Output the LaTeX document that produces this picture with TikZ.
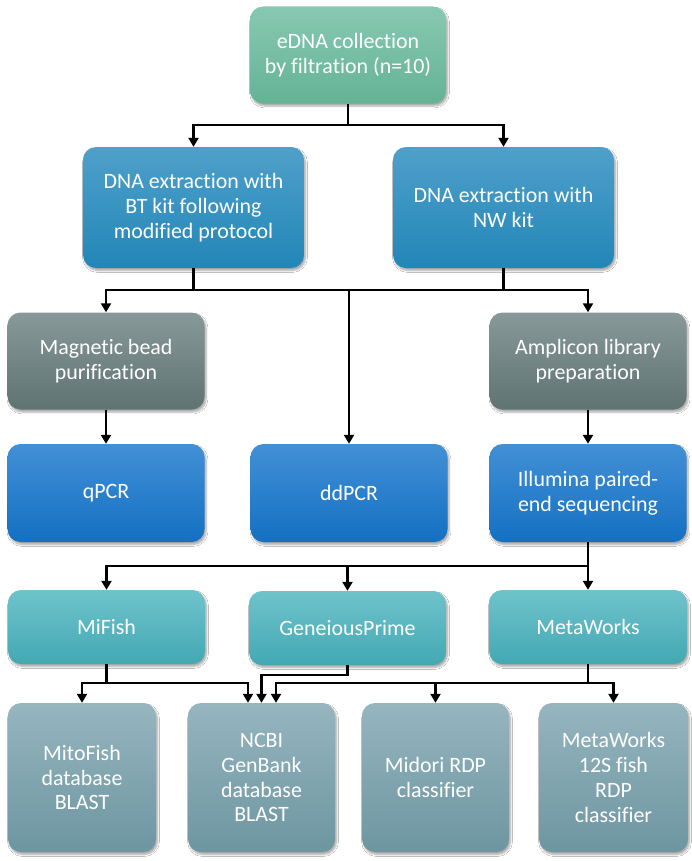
\documentclass[tikz,border=0pt]{standalone}
\usepackage{fontspec}
\setmainfont{Carlito}[RawFeature=-liga]
\usetikzlibrary{arrows.meta,shadows.blur}
\definecolor{gT}{HTML}{88C8B2}\definecolor{gB}{HTML}{64B396}
\definecolor{bT}{HTML}{4FA0C9}\definecolor{bB}{HTML}{2286B8}
\definecolor{yT}{HTML}{879998}\definecolor{yB}{HTML}{5F7372}
\definecolor{cT}{HTML}{4290D6}\definecolor{cB}{HTML}{1470C2}
\definecolor{tT}{HTML}{6FC3CB}\definecolor{tB}{HTML}{43A8B3}
\definecolor{sT}{HTML}{96B5BF}\definecolor{sB}{HTML}{6D96A1}
\begin{document}
\begin{tikzpicture}[x=1bp,y=-1bp,
  box/.style={rounded corners=13bp, align=center, text=white,
    font=\fontsize{22}{25}\selectfont, inner sep=0pt,
    blur shadow={shadow xshift=1.5bp, shadow yshift=-2.5bp, shadow blur steps=6, shadow opacity=35}},
  grn/.style={box, top color=gT, bottom color=gB},
  blu/.style={box, top color=bT, bottom color=bB},
  gry/.style={box, top color=yT, bottom color=yB},
  dbl/.style={box, top color=cT, bottom color=cB},
  tel/.style={box, top color=tT, bottom color=tB},
  slt/.style={box, top color=sT, bottom color=sB},
  ln/.style={line width=2.3bp, black},
  arr/.style={ln, -{Triangle[length=9bp,width=10bp]}}]
\useasboundingbox (0,0) rectangle (692,861);
\fill[white] (0,0) rectangle (692,861);
% row 1
\node[grn, minimum width=196bp, minimum height=97bp] (top) at (348,55) {eDNA collection\\by filtration (n=10)};
% row 2
\node[blu, minimum width=221bp, minimum height=121bp] (bt) at (193.5,207.5) {DNA extraction with\\BT kit following\\modified protocol};
\node[blu, minimum width=221bp, minimum height=121bp] (nw) at (503.5,207.5) {DNA extraction with\\NW kit};
% row 3
\node[gry, minimum width=197bp, minimum height=97bp] (mag) at (106,361) {Magnetic bead\\purification};
\node[gry, minimum width=197bp, minimum height=97bp] (amp) at (588,361) {Amplicon library\\preparation};
% row 4
\node[dbl, minimum width=197bp, minimum height=98bp] (qpcr) at (106,493) {qPCR};
\node[dbl, minimum width=197bp, minimum height=98bp] (dd) at (349,493) {ddPCR};
\node[dbl, minimum width=197bp, minimum height=98bp] (ill) at (588,493) {Illumina paired-\\end sequencing};
% row 5
\node[tel, minimum width=197bp, minimum height=74bp] (mif) at (106.5,627) {MiFish};
\node[tel, minimum width=197bp, minimum height=74bp] (gp) at (347.5,628) {GeneiousPrime};
\node[tel, minimum width=198bp, minimum height=74bp] (mw) at (588,627) {MetaWorks};
% row 6
\node[slt, minimum width=148bp, minimum height=149bp] (mito) at (82,777.5) {MitoFish\\database\\BLAST};
\node[slt, minimum width=147bp, minimum height=149bp] (ncbi) at (261.5,777.5) {NCBI\\GenBank\\database\\BLAST};
\node[slt, minimum width=147bp, minimum height=149bp] (mid) at (435.5,777.5) {Midori RDP\\classifier};
\node[slt, minimum width=149bp, minimum height=149bp] (mw12) at (613.5,777.5) {MetaWorks\\12S fish\\RDP\\classifier};
% connectors
\coordinate (h1) at (348,125);
\draw[ln] (top.south) -- (h1);
\draw[arr] (h1) -| (bt.north);
\draw[arr] (h1) -| (nw.north);
\coordinate (h2) at (349,290);
\draw[ln] (bt.south) -- (bt.south |- h2);
\draw[ln] (nw.south) -- (nw.south |- h2);
\draw[arr] (h2) -| (mag.north);
\draw[arr] (h2) -| (amp.north);
\draw[arr] (h2) -- (dd.north);
\draw[arr] (mag.south) -- (qpcr.north);
\draw[arr] (amp.south) -- (ill.north);
\coordinate (h3) at (588,566);
\draw[ln] (ill.south) -- (h3);
\draw[arr] (h3) -| (mif.north);
\draw[arr] (h3 -| gp.north) -- (gp.north);
\draw[arr] (h3) -- (mw.north);
\coordinate (h4) at (106.5,683);
\draw[ln] (mif.south) -- (h4);
\draw[arr] (h4) -| (mito.north);
\draw[arr] (h4) -| ([xshift=-13.5bp]ncbi.north);
\coordinate (h5) at (347.5,675);
\draw[arr] (gp.south) -- (h5) -| (ncbi.north);
\coordinate (h6) at (588,683);
\draw[ln] (mw.south) -- (h6);
\draw[arr] (h6) -| ([xshift=14.5bp]ncbi.north);
\draw[arr] (h6 -| mid.north) -- (mid.north);
\draw[arr] (h6) -| (mw12.north);
\end{tikzpicture}
\end{document}
